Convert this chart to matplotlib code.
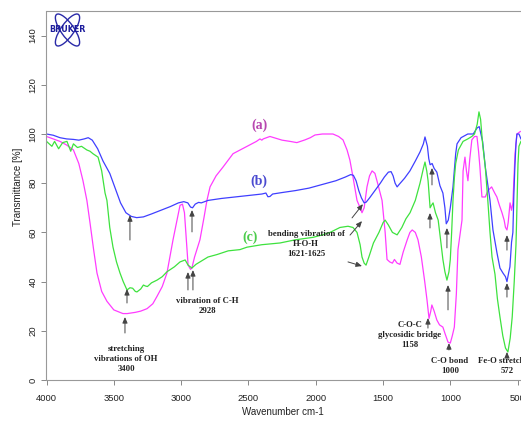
import matplotlib
matplotlib.use("Agg")
import matplotlib.pyplot as plt
from matplotlib.patches import Ellipse
from matplotlib.transforms import IdentityTransform

# ---------------- data ----------------
wn_a = [4000, 3950, 3900, 3850, 3800, 3760, 3729, 3700, 3677, 3650, 3625, 3590, 3551, 3500,
        3432, 3400, 3340, 3300, 3253, 3210, 3179, 3140, 3105, 3060, 3030, 3008, 2990, 2975,
        2960, 2948, 2930, 2920, 2900, 2860, 2830, 2808, 2785, 2740, 2688, 2614, 2510, 2440,
        2414, 2400, 2390, 2340, 2250, 2191, 2140, 2080, 2040, 2005, 1950, 1872, 1830, 1797,
        1767, 1746, 1723, 1693, 1670, 1656, 1640, 1619, 1600, 1581, 1560, 1540, 1507, 1484,
        1470, 1450, 1430, 1415, 1395, 1374, 1350, 1320, 1300, 1283, 1260, 1240, 1215, 1190,
        1173, 1158, 1145, 1137, 1120, 1100, 1080, 1055, 1040, 1017, 1000, 985, 970, 955, 943,
        913, 905, 891, 880, 869, 855, 840, 820, 802, 790, 780, 765, 740, 720, 693, 670, 654,
        635, 616, 600, 590, 579, 570, 556, 545, 535, 525, 519, 505, 480]
t_a = [99, 98, 97, 95.5, 93.5, 88, 81, 73, 64, 53, 43.5, 36, 32, 28.5,
       27, 27, 27.5, 28, 29, 31, 34, 38, 43.5, 57, 65, 71, 71.5, 68,
       56, 46.7, 45, 45.5, 50, 57, 66, 73, 78.5, 83, 86.6, 92, 95, 97,
       98, 97.5, 98, 99, 97.5, 97, 96.5, 97.6, 98.5, 99.6, 100, 100, 99, 97.6,
       93.5, 89.4, 82.5, 73, 70, 68, 70, 78.5, 83, 85, 84, 80, 73, 60,
       49, 48, 47.5, 49, 47.5, 47, 52, 57, 60, 61, 60, 57, 50, 40,
       32.5, 25, 28, 30.5, 28, 24.4, 22.4, 21.5, 19, 15.4, 15, 18, 21.5, 35, 53,
       65, 85, 90.6, 85, 81, 90, 97.6, 99, 99, 93, 86.6, 74.4, 74.4, 77, 78.5, 76, 74.4,
       71, 68, 65, 62, 61, 64, 72, 69, 72, 85, 92, 100, 101]

wn_b = [4000, 3950, 3900, 3850, 3800, 3760, 3720, 3690, 3660, 3620, 3580, 3530, 3490, 3450,
        3410, 3370, 3330, 3280, 3220, 3150, 3080, 3020, 2980, 2950, 2930, 2915, 2895, 2870,
        2850, 2800, 2700, 2600, 2500, 2400, 2370, 2355, 2340, 2320, 2250, 2150, 2050, 1950,
        1850, 1780, 1740, 1720, 1700, 1680, 1660, 1640, 1625, 1600, 1560, 1520, 1490, 1460,
        1440, 1425, 1410, 1395, 1380, 1340, 1300, 1260, 1225, 1200, 1188, 1170, 1160, 1150,
        1135, 1120, 1100, 1077, 1055, 1040, 1030, 1015, 1000, 980, 960, 950, 920, 870, 830,
        800, 785, 760, 740, 705, 683, 653, 631, 609, 590, 579, 565, 557, 545, 535, 528, 520,
        512, 505, 490, 475]
t_b = [100, 99.5, 98.5, 98, 97.8, 97.5, 98, 98.5, 97.5, 94, 89, 84, 78, 72,
       68, 66.5, 66, 66.3, 67.5, 69, 70.5, 72, 72.5, 72, 70.3, 70, 71.5, 72.2,
       72, 73, 73.8, 74.4, 75, 75.6, 76, 74.5, 74.6, 75.6, 76.2, 77, 78, 79.5,
       81, 82.5, 83.5, 83.2, 81, 77, 74, 72, 72.3, 74, 77, 80, 82.5, 84.5,
       84.7, 83, 80, 78.5, 79.5, 82, 85, 89, 92.7, 96, 98.8, 95, 90, 87.5,
       88, 86, 84.5, 79, 76, 70, 63.5, 65, 70, 78.5, 92, 96, 98.5, 100, 100,
       102.5, 103, 97, 86.6, 73, 61, 51.6, 45.5, 43.5, 42, 40, 44, 46, 56, 60, 75, 87,
       96, 100, 100, 98]

wn_c = [4000, 3960, 3940, 3910, 3880, 3848, 3820, 3800, 3770, 3740, 3700, 3677, 3655, 3617,
        3590, 3565, 3551, 3530, 3506, 3480, 3454, 3430, 3402, 3380, 3360, 3340, 3328, 3300,
        3280, 3265, 3250, 3220, 3179, 3140, 3105, 3050, 3008, 2970, 2948, 2920, 2890, 2860,
        2800, 2733, 2650, 2563, 2510, 2400, 2265, 2150, 2019, 1950, 1893, 1820, 1760, 1723,
        1693, 1670, 1656, 1640, 1626, 1605, 1571, 1530, 1499, 1484, 1460, 1430, 1395, 1360,
        1330, 1299, 1260, 1225, 1200, 1188, 1175, 1165, 1150, 1140, 1128, 1110, 1090, 1070,
        1055, 1040, 1025, 1010, 1000, 990, 980, 970, 960, 940, 905, 870, 840, 820, 800, 787,
        775, 760, 740, 720, 705, 690, 668, 650, 631, 610, 590, 572, 555, 540, 525, 512, 505,
        497, 490, 475]
t_c = [97, 95, 97, 94, 96.5, 97, 93, 96, 94.5, 95, 93.5, 93, 92, 90.6,
       85, 76, 73, 62, 54, 48, 43.5, 40, 36.6, 37.5, 37.3, 36, 35.8, 37,
       38.6, 38.2, 38, 39.5, 40.6, 42, 44, 46, 48, 48.8, 46.7, 45.5, 47, 48,
       50, 51, 52.5, 53, 54, 55, 55.7, 57, 58, 59, 60, 62, 62.5, 62,
       60, 55, 50, 47.5, 46.7, 50, 55.7, 60, 64, 65, 63, 60, 59, 62,
       65.5, 68, 73, 80, 86, 88.6, 85, 81, 70, 71, 72, 68, 65, 56,
       49, 44, 40.6, 44, 49, 60, 73, 82, 88, 93.5, 97, 98, 99, 100, 104, 109,
       106, 96, 86.6, 72, 60, 50, 43, 33, 25.6, 18, 13, 11.4, 17, 25.6, 40, 55, 70,
       88, 95, 97]

x_ticks = [4000, 3500, 3000, 2500, 2000, 1500, 1000, 500]
y_ticks = [0, 20, 40, 60, 80, 100, 120, 140]

# ---------------- figure ----------------
W, H = 521, 421
fig = plt.figure(figsize=(W / 100, H / 100), dpi=100)
ax = fig.add_axes([46.5 / W, (H - 380) / H, 1 - 46.5 / W, (380 - 11) / H])

ax.plot(wn_a, t_a, color="#ff3cff", lw=0.9)
ax.plot(wn_b, t_b, color="#3f3fff", lw=0.9)
ax.plot(wn_c, t_c, color="#3ee23e", lw=0.9)

ax.set_xlim(4000, 474.7)
ax.set_ylim(0, 150)
ax.set_xticks(x_ticks)
ax.set_yticks(y_ticks)

tick_font = dict(family="Liberation Sans", size=6.8)
ax.set_xticklabels([str(v) for v in x_ticks], fontdict=tick_font, color="#222")
ax.set_yticklabels([str(v) for v in y_ticks], fontdict=tick_font, color="#222",
                   rotation=90, va="center")
ax.tick_params(axis="both", direction="out", length=3.6, width=0.7, colors="#888",
               labelcolor="#222")
ax.tick_params(axis="x", pad=6.5)
ax.tick_params(axis="y", pad=3)

for s in ["left", "bottom", "top"]:
    ax.spines[s].set_color("#999")
    ax.spines[s].set_linewidth(0.8)
ax.spines["right"].set_visible(False)

fig.text(18 / W, 1 - 187 / H, "Transmittance [%]", rotation=90, ha="center", va="center",
         family="Liberation Sans", size=7, color="#222")
fig.text(283 / W, 1 - 412 / H, "Wavenumber cm-1", ha="center", va="center",
         family="Liberation Sans", size=7, color="#222")

# curve labels
lab = dict(family="Liberation Serif", weight="bold", size=10, ha="center", va="center")
ax.text(2421, 103.7, "(a)", color="#b847b0", **lab)
ax.text(2421, 80.9, "(b)", color="#4a4ad0", **lab)
ax.text(2487, 58.1, "(c)", color="#4ccc4c", **lab)

# annotations
ann = dict(family="Liberation Serif", weight="bold", size=6.3, ha="center", va="center",
           color="#222", linespacing=1.35)
ax.text(3409, 8.5, "stretching\nvibrations of OH\n3400", **ann)
ax.text(2808, 29.9, "vibration of C-H\n2928", **ann)
ax.text(2072, 55.3, "bending vibration of\nH-O-H\n1621-1625", **ann)
ax.text(1300, 18.4, "C-O-C\nglycosidic bridge\n1158", **ann)
ax.text(1003, 5.7, "C-O bond\n1000", **ann)
ax.text(579, 5.7, "Fe-O stretching\n572", clip_on=False, **ann)

arrows = [
    ((3417, 19.1), (3417, 25.6)),
    ((3402, 31.3), (3402, 37.0)),
    ((3380, 56.9), (3380, 67.0)),
    ((2949, 36.6), (2949, 43.9)),
    ((2912, 36.6), (2912, 44.7)),
    ((2919, 60.2), (2919, 69.1)),
    ((1730, 65.9), (1649, 71.5)),
    ((1745, 58.9), (1656, 64.6)),
    ((1760, 48.0), (1656, 46.3)),
    ((1166, 21.1), (1166, 25.2)),
    ((1136, 79.3), (1136, 86.2)),
    ((1151, 61.8), (1151, 67.9)),
    ((1025, 53.7), (1025, 61.8)),
    ((1017, 28.5), (1017, 38.6)),
    ((1010, 12.2), (1010, 15.0)),
    ((579, 52.8), (579, 58.9)),
    ((579, 33.7), (579, 39.4)),
    ((579, 8.9), (579, 11.4)),
]
for tail, head in arrows:
    ax.annotate("", xy=head, xytext=tail,
                arrowprops=dict(arrowstyle="-|>,head_length=0.35,head_width=0.15",
                                color="#444", lw=0.7, shrinkA=0, shrinkB=0))

# BRUKER logo (pixel coordinates)
cx, cy = 67.5, H - 30
for ang in (55, -55):
    e = Ellipse((cx, cy), 38, 13, angle=ang, fill=False, edgecolor="#2a2aa8", lw=1.0,
                transform=IdentityTransform())
    fig.add_artist(e)
fig.text(cx / W, cy / H, "BRUKER", ha="center", va="center", family="DejaVu Sans",
         weight="bold", size=5.8, color="#1c1c9c")

fig.savefig("out.png", dpi=100)
